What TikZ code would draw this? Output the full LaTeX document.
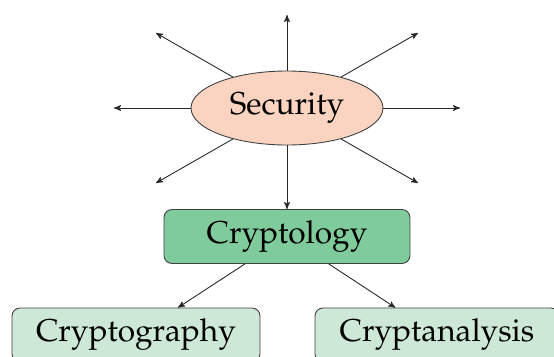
\documentclass[tikz,border=0pt]{standalone}
\usepackage[T1]{fontenc}
\usepackage{mathpazo}
\usepackage{tikz}
\usetikzlibrary{arrows,shapes.geometric}

\definecolor{peach}{RGB}{250,212,192}
\definecolor{midgreen}{RGB}{128,203,156}
\definecolor{palegreen}{RGB}{205,232,214}

\begin{document}
\begin{tikzpicture}[x=0.02cm,y=-0.02cm]

\tikzset{vertex/.style = {shape=ellipse,draw=black!75,fill=peach,line width=0.5pt,inner sep=0pt,minimum width=3.84cm,minimum height=1.48cm,font=\fontsize{18}{22}\selectfont}}
\tikzset{box/.style = {shape=rectangle,rounded corners=0.16cm,draw=black!75,line width=0.5pt,inner sep=0pt,minimum height=1.08cm,font=\fontsize{18}{22}\selectfont}}
\tikzset{edge/.style = {->,> = stealth',line width=0.5pt,black!85}}

\useasboundingbox (0,0) rectangle (554,356);

% vertices
\node[vertex] (sec) at (287,108) {Security};
\node[box,fill=midgreen,minimum width=4.92cm] (cry) at (287,236.5) {Cryptology};
\node[box,fill=palegreen,minimum width=4.96cm] (cgr) at (136,335) {Cryptography};
\node[box,fill=palegreen,minimum width=4.88cm] (can) at (437,335) {Cryptanalysis};

\coordinate (n) at (287,15);
\coordinate (ne) at (418,33);
\coordinate (e) at (460,108);
\coordinate (se) at (418,183);
\coordinate (sw) at (156,183);
\coordinate (w) at (114,108);
\coordinate (nw) at (156,33);

%edges
\draw[edge] (sec) to (n);
\draw[edge] (sec) to (ne);
\draw[edge] (sec) to (e);
\draw[edge] (sec) to (se);
\draw[edge] (sec) to (sw);
\draw[edge] (sec) to (w);
\draw[edge] (sec) to (nw);

\draw[edge] (sec) to (cry);
\draw[edge] (cry) to (cgr);
\draw[edge] (cry) to (can);

\end{tikzpicture}
\end{document}
